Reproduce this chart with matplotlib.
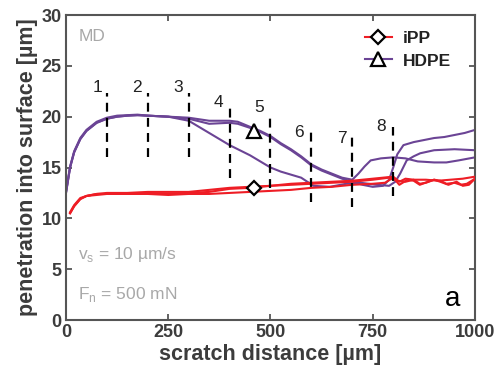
import matplotlib.pyplot as plt

plt.rcParams['font.family'] = ['Liberation Sans', 'DejaVu Sans']
plt.rcParams['mathtext.fontset'] = 'custom'
plt.rcParams['mathtext.rm'] = 'Liberation Sans'

# --- data ---
# HDPE (three scratches)
hdpe_a_x = [0, 10, 20, 35, 50, 75, 100, 125, 150, 175, 200, 250, 300, 350, 400, 420, 450, 475,
            500, 525, 550, 575, 600, 625, 650, 675, 700, 715, 730, 745, 770, 800, 830, 860,
            900, 930, 960, 1000]
hdpe_a_y = [12.5, 15.0, 16.5, 17.8, 18.6, 19.4, 19.8, 20.0, 20.1, 20.15, 20.1, 20.0, 19.9,
            19.6, 19.6, 19.5, 19.0, 18.6, 18.1, 17.4, 16.8, 16.1, 15.3, 14.8, 14.4, 14.0, 13.8,
            14.4, 15.1, 15.7, 15.9, 16.0, 15.9, 15.6, 15.5, 15.5, 15.7, 16.0]
hdpe_b_x = [0, 10, 20, 35, 50, 75, 100, 125, 150, 175, 200, 250, 300, 350, 400, 420, 450, 475,
            500, 525, 550, 575, 600, 625, 650, 675, 700, 725, 750, 775, 790, 800, 810, 825,
            850, 875, 900, 925, 950, 975, 1000]
hdpe_b_y = [12.6, 15.1, 16.6, 17.9, 18.7, 19.5, 19.9, 20.1, 20.15, 20.2, 20.1, 20.0, 19.8,
            19.3, 19.4, 19.3, 18.9, 18.5, 18.0, 17.3, 16.7, 16.0, 15.2, 14.7, 14.3, 13.9, 13.6,
            13.3, 13.1, 13.2, 13.8, 15.0, 16.3, 17.2, 17.5, 17.7, 17.9, 18.0, 18.2, 18.4, 18.7]
hdpe_c_x = [0, 10, 20, 35, 50, 75, 100, 125, 150, 175, 200, 250, 300, 325, 350, 375, 400, 425,
            450, 475, 500, 525, 550, 575, 605, 645, 685, 720, 760, 790, 805, 817, 833, 850,
            866, 900, 950, 1000]
hdpe_c_y = [12.5, 15.0, 16.5, 17.8, 18.6, 19.4, 19.8, 20.0, 20.1, 20.15, 20.1, 20.0, 19.6,
            19.0, 18.4, 17.8, 17.2, 16.7, 16.2, 15.6, 15.0, 14.6, 14.3, 14.0, 13.2, 13.1, 13.4,
            13.5, 13.3, 13.2, 13.6, 14.4, 15.7, 16.1, 16.4, 16.7, 16.8, 16.7]

# iPP (three scratches)
ipp_a_x = [10, 20, 35, 50, 75, 100, 150, 200, 250, 300, 350, 400, 450, 500, 550, 600, 650,
           700, 750, 800, 815, 830, 850, 865, 880, 900, 915, 930, 950, 965, 980, 1000]
ipp_a_y = [10.5, 11.2, 11.9, 12.2, 12.4, 12.5, 12.5, 12.6, 12.6, 12.6, 12.8, 13.0, 13.1, 13.2,
           13.4, 13.5, 13.6, 13.7, 13.9, 14.1, 13.6, 13.9, 13.8, 13.4, 13.5, 13.8, 13.7, 13.4,
           13.5, 13.3, 13.4, 13.9]
ipp_b_x = [10, 20, 35, 50, 75, 100, 150, 200, 250, 300, 350, 400, 450, 500, 550, 600, 650,
           700, 750, 790, 810, 830, 850, 880, 910, 940, 970, 1000]
ipp_b_y = [10.6, 11.3, 12.0, 12.2, 12.4, 12.4, 12.4, 12.5, 12.4, 12.5, 12.6, 12.9, 13.0, 13.2,
           13.3, 13.4, 13.5, 13.6, 13.8, 14.0, 13.7, 13.6, 13.8, 13.8, 13.7, 13.8, 13.9, 14.1]
ipp_c_x = [10, 20, 35, 50, 75, 100, 150, 200, 250, 300, 350, 400, 450, 500, 550, 600, 650,
           700, 750, 780, 800, 815, 835, 850, 865, 885, 900, 915, 935, 955, 970, 985, 1000]
ipp_c_y = [10.5, 11.2, 11.9, 12.2, 12.3, 12.4, 12.4, 12.4, 12.3, 12.4, 12.4, 12.5, 12.6, 12.7,
           12.8, 13.0, 13.1, 13.3, 13.4, 13.5, 14.0, 13.3, 13.8, 13.7, 13.3, 13.6, 13.8, 13.6,
           13.3, 13.6, 13.2, 13.3, 13.9]

# legend markers on the curves
marker_x = [460]
ipp_marker_y = [12.95]
hdpe_marker_y = [18.6]

# numbered positions (dashed lines)
pos_labels = ['1', '2', '3', '4', '5', '6', '7', '8']
pos_x = [100, 200, 300, 400, 500, 600, 700, 800]
pos_top = [22.3, 22.3, 22.3, 21.0, 20.0, 18.5, 18.0, 19.0]
pos_bottom = [16.0, 16.0, 16.0, 14.0, 13.0, 11.6, 11.1, 12.2]
label_x = [76, 174, 274, 372, 472, 570, 675, 770]
label_y = [22.9, 22.9, 22.9, 21.4, 20.9, 18.4, 17.9, 19.0]

red = '#ee1d25'
purple = '#6b4495'
grey_txt = '#a8a8a8'
dark = '#3c3c3c'

fig = plt.figure(figsize=(4.95, 3.85), dpi=100)
ax = fig.add_axes([0.1333, 0.1688, 0.8263, 0.7922])

for xs, ys in [(hdpe_a_x, hdpe_a_y), (hdpe_b_x, hdpe_b_y), (hdpe_c_x, hdpe_c_y)]:
    ax.plot(xs, ys, color=purple, lw=1.5, zorder=2)
for xs, ys in [(ipp_a_x, ipp_a_y), (ipp_b_x, ipp_b_y), (ipp_c_x, ipp_c_y)]:
    ax.plot(xs, ys, color=red, lw=1.5, zorder=3)

ax.vlines(pos_x, pos_bottom, pos_top, colors='black', lw=1.6,
          linestyles=(0, (4, 2.8)), zorder=4)
for lab, lx, ly in zip(pos_labels, label_x, label_y):
    ax.text(lx, ly, lab, ha='center', va='center', fontsize=12.5, color='#222222')

ax.plot(marker_x, ipp_marker_y, ls='none', marker='D', ms=7.5, mfc='white',
        mec='black', mew=1.6, zorder=5)
ax.plot(marker_x, hdpe_marker_y, ls='none', marker='^', ms=10, mfc='white',
        mec='black', mew=1.6, zorder=5)

# legend handles
h1, = ax.plot([], [], color=red, lw=1.5, marker='D', ms=7.5, mfc='white', mec='black', mew=1.6)
h2, = ax.plot([], [], color=purple, lw=1.5, marker='^', ms=10, mfc='white', mec='black', mew=1.6)
leg = ax.legend([h1, h2], ['iPP', 'HDPE'], loc='upper right', frameon=False,
                prop={'weight': 'bold', 'size': 12.5}, handlelength=1.6,
                borderaxespad=0.4, handletextpad=0.6, labelspacing=0.45,
                bbox_to_anchor=(0.975, 0.995))
for t in leg.get_texts():
    t.set_color('#222222')

ax.text(0.03, 0.955, 'MD', transform=ax.transAxes, ha='left', va='top',
        fontsize=12.5, color=grey_txt)
ax.text(0.03, 0.215, r'v$_\mathregular{s}$ = 10 µm/s', transform=ax.transAxes,
        ha='left', va='center', fontsize=12.5, color=grey_txt)
ax.text(0.03, 0.085, r'F$_\mathregular{n}$ = 500 mN', transform=ax.transAxes,
        ha='left', va='center', fontsize=12.5, color=grey_txt)
ax.text(0.965, 0.07, 'a', transform=ax.transAxes, ha='right', va='center',
        fontsize=20, color='black')

ax.set_xlim(0, 1000)
ax.set_ylim(0, 30)
ax.set_xticks([0, 250, 500, 750, 1000])
ax.set_yticks([0, 5, 10, 15, 20, 25, 30])
ax.tick_params(direction='in', top=True, right=True, length=4, width=1.3,
               colors='#555555', labelcolor=dark, labelsize=13, pad=3)
for lab in ax.get_xticklabels() + ax.get_yticklabels():
    lab.set_fontweight('bold')
for sp in ax.spines.values():
    sp.set_color('#555555')
    sp.set_linewidth(1.5)

ax.set_xlabel('scratch distance [µm]', fontsize=15.5, fontweight='bold', color=dark, labelpad=2)
ax.set_ylabel('penetration into surface [µm]', fontsize=15.5, fontweight='bold', color=dark,
              labelpad=3)

fig.savefig('out.png', dpi=100)
